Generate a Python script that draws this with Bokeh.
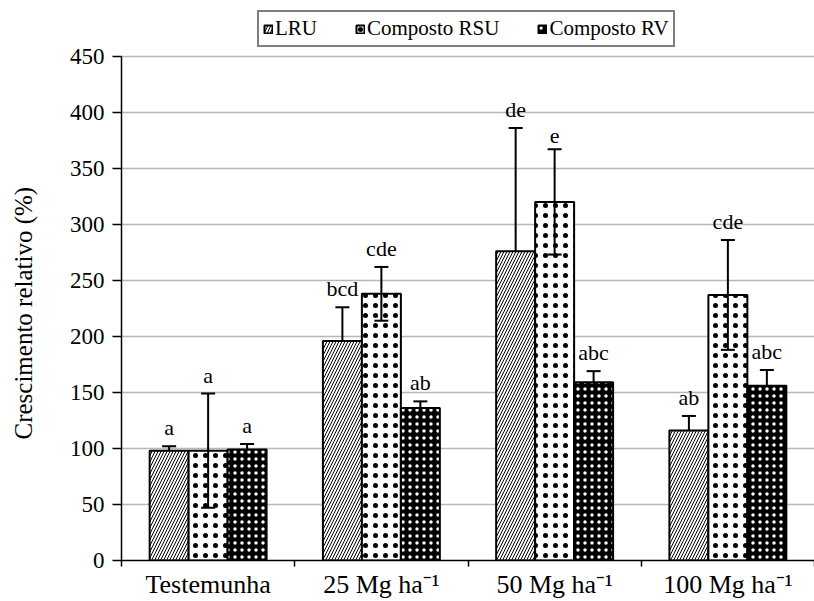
import numpy as np
from bokeh.plotting import figure
from bokeh.models import (Range1d, FixedTicker, ColumnDataSource, Whisker, TeeHead,
                          Legend, LegendItem, Title)
from bokeh.core.properties import value
from bokeh.embed import file_html
from bokeh.resources import INLINE

# ---- data ----
categories = ["Testemunha", "25 Mg ha\u207b\u00b9", "50 Mg ha\u207b\u00b9", "100 Mg ha\u207b\u00b9"]
series_names = ["LRU", "Composto RSU", "Composto RV"]
lru = [98, 196, 276, 116]
lru_err = [4, 30, 110, 13]
rsu = [98, 238, 320, 237]
rsu_err = [51, 24, 47, 49]
rv = [99, 136, 159, 156]
rv_err = [5, 6, 10, 14]
lru_letters = ["a", "bcd", "de", "ab"]
rsu_letters = ["a", "cde", "e", "cde"]
rv_letters = ["a", "ab", "abc", "abc"]
y_ticks = [0, 50, 100, 150, 200, 250, 300, 350, 400, 450]
y_label = "Crescimento relativo (%)"

FONT = "Liberation Serif"

# frame extends above 450 so the legend (inside the frame) sits above the axis top
p = figure(width=814, height=601, x_range=Range1d(0, len(categories)),
           y_range=Range1d(0, 498), output_backend="svg", toolbar_location=None,
           min_border_left=121, min_border_right=0, min_border_top=2,
           min_border_bottom=39)
p.outline_line_color = None
p.background_fill_color = "white"
p.border_fill_color = "white"
p.xgrid.visible = False
p.ygrid.grid_line_color = "#b8b8b8"
p.ygrid.grid_line_width = 1.5
p.ygrid.ticker = FixedTicker(ticks=y_ticks)

centers = np.arange(len(categories)) + 0.5
bw = 0.225
offsets = [-bw, 0.0, bw]

styles = [
    dict(fill_color="white", hatch_pattern="/", hatch_color="black", hatch_scale=6, hatch_weight=1),
    dict(fill_color="white", hatch_pattern=".", hatch_color="black", hatch_scale=10, hatch_weight=0.5),
    dict(fill_color="black", hatch_pattern=".", hatch_color="white", hatch_scale=7, hatch_weight=0.5),
]
vals = [lru, rsu, rv]
errs = [lru_err, rsu_err, rv_err]
letters = [lru_letters, rsu_letters, rv_letters]

items = []
for i in range(3):
    x = centers + offsets[i]
    top = np.array(vals[i], dtype=float)
    e = np.array(errs[i], dtype=float)
    src = ColumnDataSource(dict(x=x, top=top, upper=top + e, lower=top - e, lab=letters[i]))
    lvl = "overlay" if i == 1 else "underlay"
    w = Whisker(base="x", upper="upper", lower="lower", source=src, level=lvl,
                line_color="black", line_width=2,
                upper_head=TeeHead(size=14, line_width=2, line_color="black"),
                lower_head=TeeHead(size=14, line_width=2, line_color="black"))
    p.add_layout(w)
    r = p.vbar(x="x", top="top", width=bw, source=src, line_color="black", line_width=2,
               **styles[i])
    p.text(x="x", y="upper", text="lab", source=src, text_align="center",
           text_baseline="bottom", y_offset=-6, text_font=value(FONT),
           text_font_size="22px", text_color="black")
    items.append(LegendItem(label=series_names[i], renderers=[r]))

# axes
xa = p.xaxis[0]
xa.ticker = FixedTicker(ticks=list(centers), minor_ticks=list(range(len(categories) + 1)))
xa.major_label_overrides = {float(c): lab for c, lab in zip(centers, categories)}
xa.major_tick_line_color = None
xa.major_tick_out = 6
xa.minor_tick_out = 6
xa.minor_tick_in = 0
xa.minor_tick_line_color = "black"
xa.minor_tick_line_width = 1.5
xa.axis_line_color = "black"
xa.axis_line_width = 1.5
xa.major_label_standoff = 3
xa.major_label_text_font = FONT
xa.major_label_text_font_size = "26px"
xa.major_label_text_color = "black"

ya = p.yaxis[0]
ya.ticker = FixedTicker(ticks=y_ticks)
ya.bounds = (y_ticks[0], y_ticks[-1])
ya.minor_tick_line_color = None
ya.major_tick_out = 9
ya.major_tick_in = 0
ya.major_tick_line_color = "black"
ya.major_tick_line_width = 1.5
ya.axis_line_color = "black"
ya.axis_line_width = 1.5
ya.major_label_standoff = 8
ya.major_label_text_font = FONT
ya.major_label_text_font_size = "23px"
ya.major_label_text_color = "black"
# blank spacer label widens the axis panel so the title sits further left
ya.axis_label = " "
ya.axis_label_text_font_size = "1px"
ya.axis_label_standoff = 24

title = Title(text=y_label, align="left", offset=121, standoff=3,
              text_font=FONT, text_font_size="25px", text_font_style="normal",
              text_color="black")
p.add_layout(title, "left")

legend = Legend(items=items, orientation="horizontal", location=(136, 513),
                border_line_color="black", border_line_width=2,
                label_text_font=FONT, label_text_font_size="21px",
                label_text_color="black",
                glyph_width=10, glyph_height=10, label_standoff=2,
                spacing=38, padding=4, margin=0, background_fill_alpha=1)
p.add_layout(legend)

open("out.html", "w").write(file_html(p, INLINE))
